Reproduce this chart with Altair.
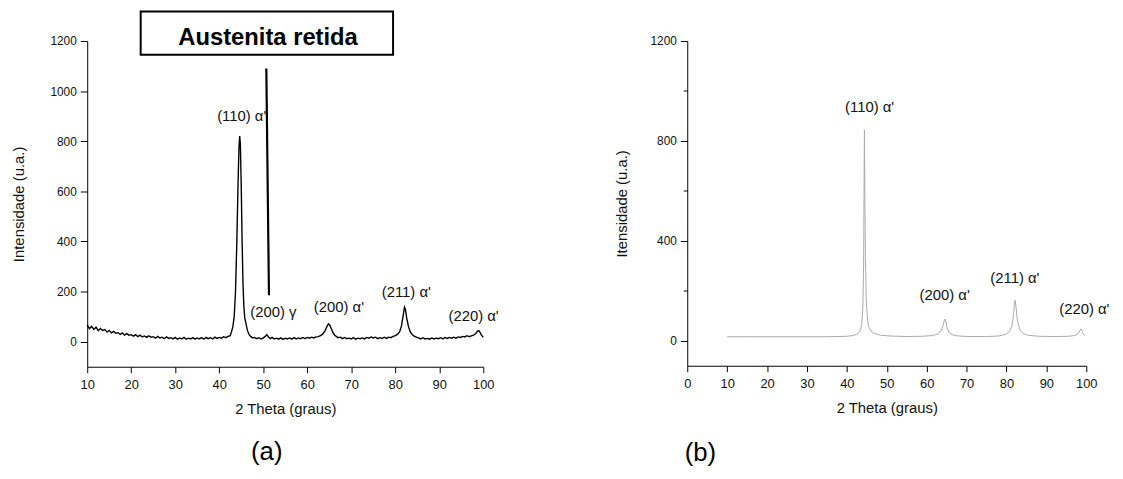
import altair as alt
import pandas as pd

# ---------------- Panel (a): measured pattern ----------------
a_theta = [
    10.0, 10.5, 11.0, 11.5, 12.0, 12.5, 13.0, 13.5, 14.0, 14.5,
    15.0, 15.5, 16.0, 16.5, 17.0, 17.5, 18.0, 18.5, 19.0, 19.5,
    20.0, 20.5, 21.0, 21.5, 22.0, 22.5, 23.0, 23.5, 24.0, 24.5,
    25.0, 25.5, 26.0, 26.5, 27.0, 27.5, 28.0, 28.5, 29.0, 29.5,
    30.0, 30.5, 31.0, 31.5, 32.0, 32.5, 33.0, 33.5, 34.0, 34.5,
    35.0, 35.5, 36.0, 36.5, 37.0, 37.5, 38.0, 38.5, 39.0, 39.5,
    40.0, 40.5, 41.0, 41.5, 42.0,
    42.5, 42.8, 43.1, 43.4, 43.7, 44.0, 44.3, 44.5, 44.65, 44.8,
    45.0, 45.2, 45.4, 45.6, 45.8, 46.1, 46.4, 46.8, 47.2, 47.6,
    48.0, 48.5, 49.0, 49.5, 50.0, 50.4, 50.8, 51.2, 51.6, 52.0,
    52.5, 53.0, 53.5, 54.0, 54.5, 55.0, 55.5, 56.0, 56.5, 57.0,
    57.5, 58.0, 58.5, 59.0, 59.5, 60.0, 60.5, 61.0, 61.5, 62.0,
    62.5,
    63.0, 63.5, 64.0, 64.4, 64.8, 65.1, 65.4, 65.8, 66.2, 66.6, 67.0,
    67.5, 68.0, 68.5, 69.0, 69.5, 70.0, 70.5, 71.0, 71.5, 72.0,
    72.5, 73.0, 73.5, 74.0, 74.5, 75.0, 75.5, 76.0, 76.5, 77.0,
    77.5, 78.0, 78.5, 79.0, 79.5, 80.0, 80.5,
    81.0, 81.4, 81.8, 82.1, 82.3, 82.6, 83.0, 83.4, 83.8, 84.3, 84.8,
    85.3, 85.8, 86.3, 86.8, 87.3, 87.8, 88.3, 88.8, 89.3, 89.8,
    90.3, 90.8, 91.3, 91.8, 92.3, 92.8, 93.3, 93.8, 94.3, 94.8,
    95.3, 95.8, 96.3, 96.8, 97.3, 97.8, 98.3, 98.7, 99.0, 99.3,
    99.6, 100.0,
]
a_int = [
    66, 52, 61, 49, 58, 44, 53, 45, 48, 38,
    45, 35, 41, 34, 36, 29, 35, 26, 32, 26,
    28, 22, 28, 20, 26, 19, 23, 17, 23, 18,
    20, 14, 21, 15, 18, 12, 19, 13, 16, 11,
    17, 10, 15, 11, 17, 10, 14, 11, 16, 10,
    15, 11, 16, 10, 17, 12, 16, 11, 18, 13,
    17, 14, 20, 16, 21,
    24, 40, 60, 100, 200, 400, 650, 780, 821, 790,
    620, 400, 230, 140, 95, 70, 45, 28, 20, 15,
    17, 12, 16, 11, 15, 20, 28, 19, 12, 17,
    11, 14, 10, 15, 9, 14, 11, 15, 10, 16,
    11, 15, 12, 17, 12, 17, 14, 18, 15, 19,
    20,
    24, 30, 42, 58, 71, 67, 55, 38, 27, 21, 16,
    18, 12, 17, 12, 14, 11, 16, 10, 14, 12,
    15, 11, 17, 14, 19, 15, 18, 12, 16, 13,
    18, 13, 18, 16, 21, 24, 29,
    40, 62, 105, 138, 130, 95, 60, 40, 30, 22, 18,
    15, 11, 16, 11, 13, 10, 15, 11, 14, 12,
    16, 11, 17, 13, 17, 14, 18, 14, 19, 17,
    21, 19, 24, 20, 23, 26, 33, 42, 44, 36,
    26, 17,
]

a_lab_text = ["(110) α'", "(200) γ", "(200) α'", "(211) α'", "(220) α'"]
a_lab_x = [45.1, 52.3, 67.2, 82.5, 97.8]
a_lab_y = [900, 118, 138, 197, 103]

# annotation "Austenita retida"
ann_text = ["Austenita retida"]
ann_x = [51.1]
ann_y = [1184]
ann_box_x = [22.15]
ann_box_x2 = [79.5]
ann_box_y = [1145]
ann_box_y2 = [1318]
ann_line_x = [50.7]
ann_line_x2 = [51.3]
ann_line_y = [1090]
ann_line_y2 = [185]

a_x_ticks = [10, 15, 20, 25, 30, 35, 40, 45, 50, 55, 60, 65, 70, 75, 80, 85, 90, 95, 100]
a_y_ticks = [0, 100, 200, 300, 400, 500, 600, 700, 800, 900, 1000, 1100, 1200]

# ---------------- Panel (b): calculated pattern ----------------
b_theta = [
    10, 15, 20, 25, 30, 35, 38, 40, 41.5, 42.5,
    43.2, 43.7, 44.0, 44.2, 44.3, 44.4, 44.5, 44.65, 44.85, 45.2,
    45.6, 46.2, 47, 48.5, 51, 55, 59, 61.5, 62.8, 63.6,
    64.1, 64.4, 64.6, 64.8, 65.1, 65.6, 66.4, 67.5, 70, 75,
    78, 79.8, 80.8, 81.4, 81.8, 82.0, 82.15, 82.35, 82.7, 83.3,
    84.2, 85.5, 88, 92, 95.5, 97, 97.8, 98.2, 98.45, 98.7,
    99.0, 99.3, 99.6,
]
b_int = [
    16, 16, 16, 16, 16, 16, 17, 18, 21, 26,
    36, 60, 130, 300, 580, 843, 600, 330, 170, 80,
    50, 36, 29, 22, 19, 17, 18, 21, 27, 40,
    60, 80, 87, 78, 52, 33, 24, 20, 17, 17,
    19, 26, 38, 62, 110, 150, 162, 140, 85, 45,
    28, 22, 18, 17, 18, 21, 26, 34, 42, 48,
    38, 27, 21,
]

b_lab_text = ["(110) α'", "(200) α'", "(211) α'", "(220) α'"]
b_lab_x = [45.7, 64.5, 82.1, 99.5]
b_lab_y = [935, 182, 250, 127]

b_x_ticks = [0, 10, 20, 30, 40, 50, 60, 70, 80, 90, 100]
b_y_ticks = [0, 200, 400, 600, 800, 1000, 1200]

panel_text = ["(a)", "(b)"]
panel_x = [50.8, 3.3]
panel_y = [-442, -451]

FONT = "Liberation Sans"

# ---------------- Panel (a) chart ----------------
a_df = pd.DataFrame({"theta": a_theta, "intensity": a_int})
a_lab_df = pd.DataFrame({"theta": a_lab_x, "intensity": a_lab_y, "label": a_lab_text})
ann_df = pd.DataFrame({"theta": ann_x, "intensity": ann_y, "label": ann_text})
box_df = pd.DataFrame({"theta": ann_box_x, "theta2": ann_box_x2,
                       "intensity": ann_box_y, "intensity2": ann_box_y2})
line_df = pd.DataFrame({"theta": ann_line_x, "theta2": ann_line_x2,
                        "intensity": ann_line_y, "intensity2": ann_line_y2})
pa_df = pd.DataFrame({"theta": [panel_x[0]], "intensity": [panel_y[0]], "label": [panel_text[0]]})

xa = alt.X(
    "theta:Q",
    scale=alt.Scale(domain=[10, 100], nice=False, zero=False),
    axis=alt.Axis(
        title="2 Theta (graus)",
        values=a_x_ticks,
        format="d",
        labelExpr="datum.value % 10 === 0 ? datum.label : ''",
        tickSize={"condition": {"test": "datum.value % 10 === 0", "value": 6}, "value": 3},
        labelFlush=False,
        labelOverlap=False,
    ),
)
ya = alt.Y(
    "intensity:Q",
    scale=alt.Scale(domain=[-100, 1200], nice=False, zero=False),
    axis=alt.Axis(
        title="Intensidade (u.a.)",
        values=a_y_ticks,
        format="d",
        labelExpr="datum.value % 200 === 0 ? datum.label : ''",
        tickSize={"condition": {"test": "datum.value % 200 === 0", "value": 7}, "value": 4},
        labelOverlap=False,
        titlePadding=24,
    ),
)

a_line = alt.Chart(a_df).mark_line(color="black", strokeWidth=1.4).encode(x=xa, y=ya)
a_labels = alt.Chart(a_lab_df).mark_text(
    font=FONT, fontSize=15, color="#111111", align="center", baseline="middle"
).encode(x="theta:Q", y="intensity:Q", text="label:N")
a_box = alt.Chart(box_df).mark_rect(
    fill="white", stroke="black", strokeWidth=2, clip=False
).encode(x="theta:Q", x2="theta2", y="intensity:Q", y2="intensity2")
a_ann = alt.Chart(ann_df).mark_text(
    font=FONT, fontSize=24, fontWeight="bold", color="black", align="center",
    baseline="alphabetic", clip=False
).encode(x="theta:Q", y="intensity:Q", text="label:N")
a_rule = alt.Chart(line_df).mark_rule(color="black", strokeWidth=2.2).encode(
    x="theta:Q", x2="theta2", y="intensity:Q", y2="intensity2"
)
a_panel = alt.Chart(pa_df).mark_text(
    font=FONT, fontSize=26, color="black", align="center", baseline="middle", clip=False
).encode(x="theta:Q", y="intensity:Q", text="label:N")

left = alt.layer(a_line, a_rule, a_labels, a_box, a_ann, a_panel).properties(width=400, height=329)

# ---------------- Panel (b) chart ----------------
b_df = pd.DataFrame({"theta": b_theta, "intensity": b_int})
b_lab_df = pd.DataFrame({"theta": b_lab_x, "intensity": b_lab_y, "label": b_lab_text})
pb_df = pd.DataFrame({"theta": [panel_x[1]], "intensity": [panel_y[1]], "label": [panel_text[1]]})

xb = alt.X(
    "theta:Q",
    scale=alt.Scale(domain=[0, 100], nice=False, zero=False),
    axis=alt.Axis(
        title="2 Theta (graus)",
        values=b_x_ticks,
        format="d",
        tickSize=6,
        labelFlush=False,
        labelOverlap=False,
    ),
)
yb = alt.Y(
    "intensity:Q",
    scale=alt.Scale(domain=[-100, 1200], nice=False, zero=False),
    axis=alt.Axis(
        title="Itensidade (u.a.)",
        values=b_y_ticks,
        format="d",
        labelExpr="datum.value % 400 === 0 ? datum.label : ''",
        tickSize={"condition": {"test": "datum.value % 400 === 0", "value": 7}, "value": 4},
        labelOverlap=False,
        titlePadding=21,
    ),
)

b_line = alt.Chart(b_df).mark_line(color="#a9a9a9", strokeWidth=1).encode(x=xb, y=yb)
b_labels = alt.Chart(b_lab_df).mark_text(
    font=FONT, fontSize=15, color="#111111", align="center", baseline="middle", clip=False
).encode(x="theta:Q", y="intensity:Q", text="label:N")
b_panel = alt.Chart(pb_df).mark_text(
    font=FONT, fontSize=26, color="black", align="center", baseline="middle", clip=False
).encode(x="theta:Q", y="intensity:Q", text="label:N")

right = alt.layer(b_line, b_labels, b_panel).properties(width=403, height=328)

chart = (
    alt.hconcat(left, right, spacing=206, bounds="flush")
    .properties(padding={"left": 3, "top": 0, "right": 5, "bottom": 5}, background="white")
    .configure_view(stroke=None)
    .configure_axis(
        grid=False,
        labelFont=FONT,
        titleFont=FONT,
        labelColor="#111111",
        titleColor="#111111",
        titleFontWeight="normal",
        domainColor="black",
        tickColor="black",
        domainWidth=1,
        tickWidth=1,
    )
    .configure_axisX(labelFontSize=13, titleFontSize=15, labelPadding=6, titlePadding=10)
    .configure_axisY(labelFontSize=12, titleFontSize=15, labelPadding=4)
)

chart.save("out.html", embed_options={"renderer": "svg", "actions": False})
